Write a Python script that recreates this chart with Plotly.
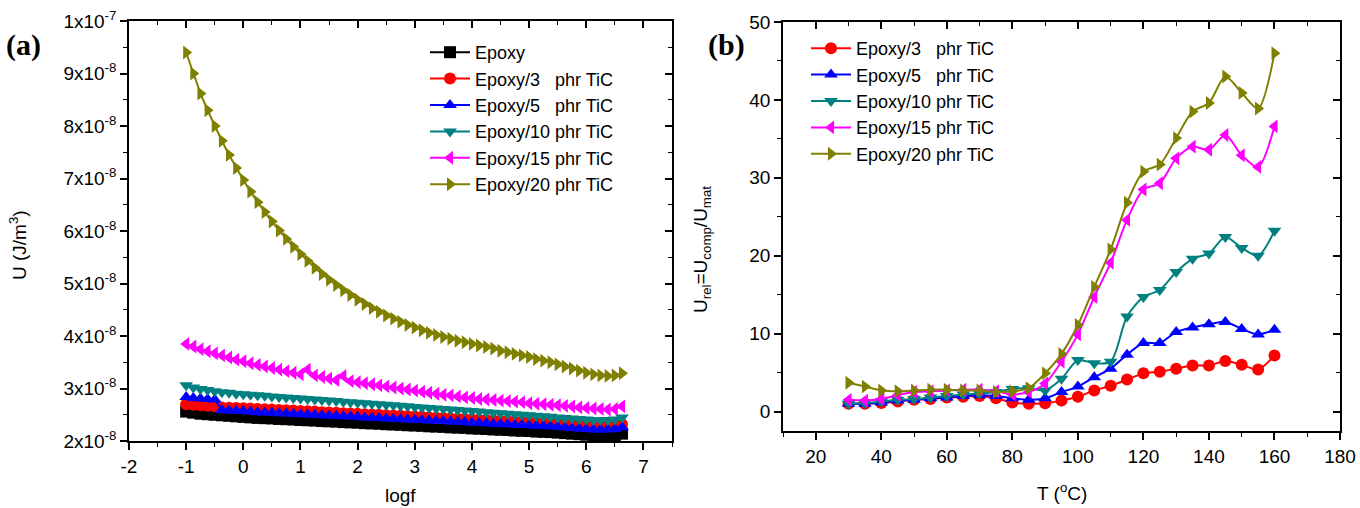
import numpy as np
import plotly.graph_objects as go

# ---------------- Panel (a): U vs logf (U in units of 1e-8 J/m^3) ----------------
logf = [-1.0, -0.875, -0.75, -0.625, -0.5, -0.375, -0.25, -0.125,
        0.0, 0.125, 0.25, 0.375, 0.5, 0.625, 0.75, 0.875,
        1.0, 1.125, 1.25, 1.375, 1.5, 1.625, 1.75, 1.875,
        2.0, 2.125, 2.25, 2.375, 2.5, 2.625, 2.75, 2.875,
        3.0, 3.125, 3.25, 3.375, 3.5, 3.625, 3.75, 3.875,
        4.0, 4.125, 4.25, 4.375, 4.5, 4.625, 4.75, 4.875,
        5.0, 5.125, 5.25, 5.375, 5.5, 5.625, 5.75, 5.875,
        6.0, 6.125, 6.25, 6.375, 6.5, 6.625]

u_epoxy = [2.56, 2.54, 2.52, 2.51, 2.50, 2.49, 2.48, 2.47,
           2.46, 2.45, 2.44, 2.435, 2.43, 2.42, 2.415, 2.41,
           2.40, 2.395, 2.39, 2.38, 2.375, 2.37, 2.36, 2.355,
           2.35, 2.34, 2.335, 2.33, 2.32, 2.315, 2.31, 2.30,
           2.295, 2.29, 2.28, 2.275, 2.27, 2.26, 2.255, 2.25,
           2.24, 2.235, 2.23, 2.22, 2.215, 2.21, 2.20, 2.195,
           2.19, 2.18, 2.175, 2.17, 2.16, 2.15, 2.14, 2.13,
           2.12, 2.11, 2.10, 2.10, 2.11, 2.14]

u_3phr = [2.70, 2.69, 2.68, 2.67, 2.66, 2.64, 2.635, 2.63,
          2.625, 2.62, 2.61, 2.605, 2.60, 2.59, 2.585, 2.58,
          2.57, 2.565, 2.56, 2.55, 2.545, 2.54, 2.53, 2.525,
          2.52, 2.51, 2.505, 2.50, 2.49, 2.485, 2.48, 2.47,
          2.465, 2.46, 2.45, 2.445, 2.44, 2.43, 2.425, 2.42,
          2.41, 2.405, 2.40, 2.39, 2.385, 2.38, 2.37, 2.365,
          2.36, 2.35, 2.345, 2.34, 2.33, 2.32, 2.31, 2.30,
          2.29, 2.28, 2.28, 2.28, 2.29, 2.32]

u_5phr = [2.84, 2.82, 2.81, 2.80, 2.79, 2.59, 2.58, 2.575,
          2.57, 2.56, 2.55, 2.545, 2.54, 2.53, 2.525, 2.52,
          2.51, 2.505, 2.50, 2.49, 2.485, 2.48, 2.47, 2.465,
          2.46, 2.45, 2.445, 2.44, 2.43, 2.425, 2.42, 2.41,
          2.405, 2.40, 2.39, 2.385, 2.38, 2.37, 2.365, 2.36,
          2.35, 2.345, 2.34, 2.33, 2.325, 2.32, 2.31, 2.305,
          2.30, 2.29, 2.285, 2.28, 2.27, 2.26, 2.25, 2.24,
          2.23, 2.22, 2.22, 2.22, 2.23, 2.26]

u_10phr = [3.06, 3.02, 2.99, 2.97, 2.95, 2.93, 2.92, 2.90,
           2.89, 2.88, 2.87, 2.86, 2.85, 2.84, 2.83, 2.82,
           2.81, 2.80, 2.79, 2.78, 2.77, 2.76, 2.75, 2.74,
           2.73, 2.72, 2.71, 2.70, 2.69, 2.68, 2.67, 2.66,
           2.65, 2.64, 2.63, 2.62, 2.61, 2.60, 2.59, 2.58,
           2.57, 2.56, 2.55, 2.54, 2.53, 2.52, 2.51, 2.50,
           2.49, 2.48, 2.47, 2.46, 2.45, 2.44, 2.43, 2.42,
           2.41, 2.40, 2.40, 2.40, 2.41, 2.45]

u_15phr = [3.85, 3.80, 3.75, 3.71, 3.67, 3.63, 3.59, 3.55,
           3.52, 3.48, 3.45, 3.42, 3.39, 3.36, 3.33, 3.30,
           3.27, 3.36, 3.25, 3.22, 3.19, 3.16, 3.24, 3.14,
           3.12, 3.10, 3.08, 3.06, 3.04, 3.02, 3.00, 2.98,
           2.96, 2.94, 2.92, 2.90, 2.88, 2.87, 2.85, 2.83,
           2.82, 2.80, 2.79, 2.78, 2.77, 2.76, 2.75, 2.74,
           2.72, 2.71, 2.70, 2.69, 2.68, 2.67, 2.66, 2.64,
           2.63, 2.62, 2.61, 2.60, 2.61, 2.66]

u_20phr = [9.40, 9.00, 8.62, 8.30, 8.00, 7.72, 7.45, 7.20,
           6.97, 6.75, 6.55, 6.36, 6.18, 6.01, 5.85, 5.70,
           5.56, 5.43, 5.30, 5.18, 5.07, 4.97, 4.87, 4.78,
           4.69, 4.61, 4.53, 4.46, 4.39, 4.33, 4.27, 4.21,
           4.16, 4.11, 4.06, 4.02, 3.98, 3.95, 3.91, 3.88,
           3.85, 3.82, 3.79, 3.76, 3.72, 3.69, 3.66, 3.63,
           3.60, 3.56, 3.53, 3.50, 3.46, 3.42, 3.38, 3.34,
           3.30, 3.27, 3.25, 3.24, 3.25, 3.29]

u_ticks = [2e-8, 3e-8, 4e-8, 5e-8, 6e-8, 7e-8, 8e-8, 9e-8, 1e-7]
u_ticktext = ["2x10<sup>-8</sup>", "3x10<sup>-8</sup>", "4x10<sup>-8</sup>",
              "5x10<sup>-8</sup>", "6x10<sup>-8</sup>", "7x10<sup>-8</sup>",
              "8x10<sup>-8</sup>", "9x10<sup>-8</sup>", "1x10<sup>-7</sup>"]
logf_ticks = [-2, -1, 0, 1, 2, 3, 4, 5, 6, 7]
logf_ticktext = ["-2", "-1", "0", "1", "2", "3", "4", "5", "6", "7"]

# ---------------- Panel (b): U_rel vs T ----------------
T = [30, 35, 40, 45, 50, 55, 60, 65, 70, 75, 80, 85, 90, 95,
     100, 105, 110, 115, 120, 125, 130, 135, 140, 145, 150, 155, 160]
rel_3phr = [1.0, 1.0, 1.1, 1.3, 1.5, 1.6, 1.8, 1.9, 2.0,
            1.7, 1.15, 1.0, 1.05, 1.4, 1.9, 2.7, 3.3, 4.1,
            4.9, 5.1, 5.5, 5.9, 5.9, 6.5, 6.0, 5.4, 7.2]
rel_5phr = [1.0, 1.0, 1.15, 1.4, 1.5, 1.7, 1.8, 2.0, 2.1,
            2.0, 1.7, 1.5, 1.7, 2.5, 3.2, 4.4, 5.5, 7.3,
            8.8, 8.8, 10.2, 10.8, 11.2, 11.5, 10.6, 9.9, 10.5]
rel_10phr = [1.0, 1.1, 1.3, 1.5, 1.6, 1.8, 2.0, 2.2, 2.3,
             2.5, 2.9, 3.0, 2.7, 4.2, 6.6, 6.2, 6.4, 12.2,
             14.7, 15.6, 17.9, 19.6, 20.3, 22.4, 21.0, 20.0, 23.2]
rel_15phr = [1.5, 1.4, 1.6, 2.1, 2.5, 2.6, 2.7, 2.8, 2.8,
             2.6, 2.2, 2.5, 3.6, 6.4, 9.9, 14.7, 19.1, 24.6,
             28.5, 29.3, 32.5, 34.0, 33.6, 35.5, 32.9, 31.4, 36.6]
rel_20phr = [3.7, 3.2, 2.7, 2.6, 2.7, 2.8, 2.8, 2.7, 2.7,
             2.5, 2.6, 3.0, 4.9, 7.4, 11.1, 16.0, 20.8, 26.8,
             30.8, 31.7, 35.1, 38.5, 39.6, 43.0, 40.9, 38.9, 46.0]

for s in (u_epoxy, u_3phr, u_5phr, u_10phr, u_15phr, u_20phr):
    assert len(s) == len(logf)
for s in (rel_3phr, rel_5phr, rel_10phr, rel_15phr, rel_20phr):
    assert len(s) == len(T)

NB = "\u00a0"
names_a = ["Epoxy", "Epoxy/3" + NB * 3 + "phr TiC", "Epoxy/5" + NB * 3 + "phr TiC",
           "Epoxy/10 phr TiC", "Epoxy/15 phr TiC", "Epoxy/20 phr TiC"]
colors = ["#000000", "#FF0000", "#0000FF", "#008080", "#FF00FF", "#808000"]
symbols = ["square", "circle", "triangle-up", "triangle-down", "triangle-left", "triangle-right"]

FONT = "Liberation Sans, Arial, sans-serif"
fig = go.Figure()

series_a = [u_epoxy, u_3phr, u_5phr, u_10phr, u_15phr, u_20phr]
for name, ys, c, sym in zip(names_a, series_a, colors, symbols):
    fig.add_trace(go.Scatter(
        x=logf, y=np.array(ys) * 1e-8, name=name, mode="lines+markers",
        line=dict(color=c, width=2), marker=dict(symbol=sym, size=12, color=c),
        xaxis="x", yaxis="y", legend="legend"))

series_b = [rel_3phr, rel_5phr, rel_10phr, rel_15phr, rel_20phr]
for name, ys, c, sym in zip(names_a[1:], series_b, colors[1:], symbols[1:]):
    fig.add_trace(go.Scatter(
        x=T, y=ys, name=name, mode="lines+markers",
        line=dict(color=c, width=2, shape="spline", smoothing=0.8),
        marker=dict(symbol=sym, size=12, color=c),
        xaxis="x2", yaxis="y2", legend="legend2"))

# invisible traces so mirrored inner-tick axes are drawn
for xa, ya in (("x3", "y"), ("x", "y3"), ("x4", "y2"), ("x2", "y4")):
    fig.add_trace(go.Scatter(x=[None], y=[None], xaxis=xa, yaxis=ya,
                             showlegend=False, hoverinfo="skip"))

tickfont = dict(family=FONT, size=19, color="black")
common = dict(showgrid=False, zeroline=False, showline=True, linecolor="black",
              linewidth=1.5, ticks="outside", ticklen=7, tickwidth=1.5,
              tickcolor="black", tickfont=tickfont, mirror=True, automargin=False)
inner = dict(showticklabels=False, showgrid=False, zeroline=False, showline=False,
             ticks="inside", ticklen=7, tickwidth=1.5, tickcolor="black", automargin=False)

xa_dom = [129 / 1360, 672 / 1360]
ya_dom = [(508 - 441) / 508, (508 - 21) / 508]
xb_dom = [783 / 1360, 1340 / 1360]
yb_dom = [(508 - 431) / 508, (508 - 22) / 508]

def minor(dt, t0, side):
    return dict(tickmode="linear", dtick=dt, tick0=t0, ticks=side, ticklen=4,
                tickwidth=1.2, tickcolor="black")

fig.update_layout(
    width=1360, height=508, margin=dict(l=0, r=0, t=0, b=0, autoexpand=False),
    paper_bgcolor="white", plot_bgcolor="white",
    font=dict(family=FONT, size=18, color="black"),
    xaxis=dict(domain=xa_dom, range=[-2, 7.5], tickmode="array", tickvals=logf_ticks,
               ticktext=logf_ticktext, anchor="y", minor=minor(0.5, -2, "outside"), **common),
    yaxis=dict(domain=ya_dom, range=[2e-8, 1e-7], tickmode="array", tickvals=u_ticks,
               ticktext=u_ticktext, anchor="x", minor=minor(5e-9, 0, "outside"), **common),
    xaxis3=dict(overlaying="x", side="top", anchor="y", range=[-2, 7.5], tickmode="array",
                tickvals=logf_ticks, minor=minor(0.5, -2, "inside"), **inner),
    yaxis3=dict(overlaying="y", side="right", anchor="x", range=[2e-8, 1e-7],
                tickmode="array", tickvals=u_ticks, minor=minor(5e-9, 0, "inside"), **inner),
    xaxis2=dict(domain=xb_dom, range=[10, 180], tick0=0, dtick=20, anchor="y2",
                minor=minor(10, 0, "outside"), **common),
    yaxis2=dict(domain=yb_dom, range=[-2.5, 50], tick0=0, dtick=10, anchor="x2",
                minor=minor(5, 0, "outside"), **common),
    xaxis4=dict(overlaying="x2", side="top", anchor="y2", range=[10, 180], tick0=0, dtick=20,
                minor=minor(10, 0, "inside"), **inner),
    yaxis4=dict(overlaying="y2", side="right", anchor="x2", range=[-2.5, 50], tick0=0, dtick=10,
                minor=minor(5, 0, "inside"), **inner),
    legend=dict(x=425 / 1360, y=(508 - 34) / 508, xanchor="left", yanchor="top",
                bgcolor="rgba(0,0,0,0)", font=dict(family=FONT, size=18, color="black"),
                tracegroupgap=0, itemwidth=40),
    legend2=dict(x=806 / 1360, y=(508 - 30) / 508, xanchor="left", yanchor="top",
                 bgcolor="rgba(0,0,0,0)", font=dict(family=FONT, size=18, color="black"),
                 tracegroupgap=0, itemwidth=40),
    showlegend=True,
)

ann_font = dict(family=FONT, size=19, color="black")
serif = dict(family="Liberation Serif, Times New Roman, serif", size=30, color="black")
fig.add_annotation(text="<b>(a)</b>", x=4 / 1360, y=(508 - 45) / 508, xref="paper", yref="paper",
                   xanchor="left", yanchor="middle", showarrow=False, font=serif)
fig.add_annotation(text="<b>(b)</b>", x=706 / 1360, y=(508 - 45) / 508, xref="paper", yref="paper",
                   xanchor="left", yanchor="middle", showarrow=False, font=serif)
fig.add_annotation(text="logf", x=400 / 1360, y=(508 - 495) / 508, xref="paper", yref="paper",
                   xanchor="center", yanchor="middle", showarrow=False, font=ann_font)
fig.add_annotation(text="T (<sup>o</sup>C)", x=1062 / 1360, y=(508 - 492) / 508, xref="paper",
                   yref="paper", xanchor="center", yanchor="middle", showarrow=False, font=ann_font)
fig.add_annotation(text="U (J/m<sup>3</sup>)", x=18 / 1360, y=(508 - 245) / 508, xref="paper",
                   yref="paper", xanchor="center", yanchor="middle", textangle=-90,
                   showarrow=False, font=ann_font)
fig.add_annotation(text="U<sub>rel</sub>=U<sub>comp</sub>/U<sub>mat</sub>", x=702 / 1360,
                   y=(508 - 250) / 508, xref="paper", yref="paper", xanchor="center",
                   yanchor="middle", textangle=-90, showarrow=False, font=ann_font)

fig.write_html("out.html", config={"displayModeBar": False},
               post_script="document.body.style.margin='0px';")
